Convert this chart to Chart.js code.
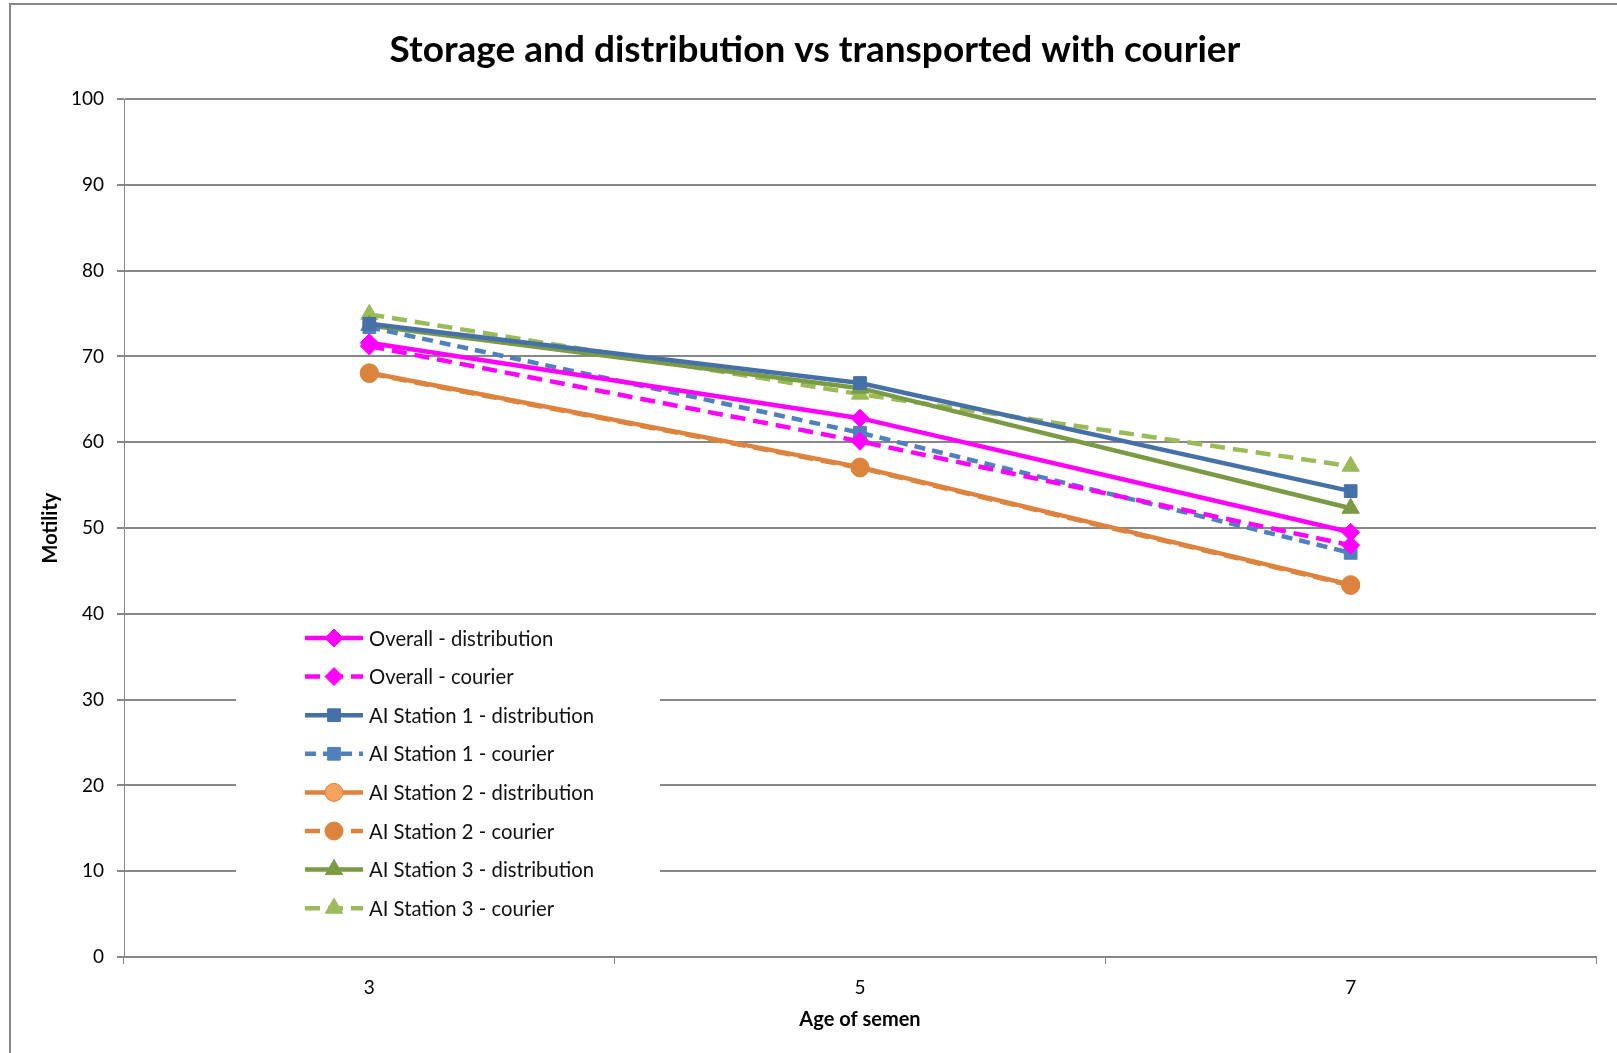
<!DOCTYPE html>
<html>
<head>
<meta charset="utf-8">
<title>Storage and distribution vs transported with courier</title>
<script src="https://cdn.jsdelivr.net/npm/chart.js@4.4.1/dist/chart.umd.min.js"></script>
<style>
  html, body { margin: 0; padding: 0; background: #fff; }
  #wrap { width: 1617px; height: 1053px; position: relative; }
</style>
</head>
<body>
<div id="wrap"><canvas id="chart" width="1617" height="1053"></canvas></div>
<script>
// values
const ageLabels = ['3', '5', '7'];
const overallDistribution = [71.6, 62.8, 49.5];
const overallCourier = [71.2, 60.1, 48.0];
const station1Distribution = [73.8, 66.9, 54.3];
const station1Courier = [73.4, 61.1, 47.1];
const station2Distribution = [68.1, 57.1, 43.4];
const station2Courier = [68.0, 57.0, 43.3];
const station3Distribution = [73.6, 66.3, 52.3];
const station3Courier = [74.9, 65.6, 57.2];
const yTicks = [0, 10, 20, 30, 40, 50, 60, 70, 80, 90, 100];

const FONT = 'Lato, Carlito, "Liberation Sans", sans-serif';
const GRID = '#878787';

function series(label, data, color, style, dashed, fill) {
  return {
    label: label,
    data: data,
    borderColor: color,
    backgroundColor: fill || color,
    borderWidth: 4.5,
    borderDash: dashed ? [15, 8] : [],
    pointStyle: style,
    pointRadius: style === 'rect' ? 9 : (style === 'triangle' ? 10 : 9),
    pointBorderWidth: 1,
    pointBorderColor: color,
    pointBackgroundColor: fill || color,
    tension: 0,
    fill: false
  };
}

const datasets = [
  series('Overall - distribution', overallDistribution, '#FF00FF', 'rectRot', false),
  series('Overall - courier', overallCourier, '#FF00FF', 'rectRot', true),
  series('AI Station 1 - distribution', station1Distribution, '#4670A8', 'rect', false),
  series('AI Station 1 - courier', station1Courier, '#4F81BD', 'rect', true),
  series('AI Station 2 - distribution', station2Distribution, '#E0823D', 'circle', false, '#F7A25E'),
  series('AI Station 2 - courier', station2Courier, '#DC843E', 'circle', true),
  series('AI Station 3 - distribution', station3Distribution, '#7A9A43', 'triangle', false),
  series('AI Station 3 - courier', station3Courier, '#9BBB59', 'triangle', true)
];
datasets[3].borderDash = [11, 7];
// the darker courier circles sit on top of the distribution ones
datasets[5].order = -1;

// frame around the chart and the legend sitting inside the plot
const decor = {
  id: 'decor',
  beforeDraw(chart) {
    const ctx = chart.ctx;
    ctx.save();
    ctx.strokeStyle = GRID;
    ctx.lineWidth = 2;
    ctx.strokeRect(10, 4, 2000, 2000);
    ctx.restore();
  },
  afterDraw(chart) {
    const ctx = chart.ctx;
    ctx.save();
    ctx.fillStyle = '#fff';
    ctx.fillRect(236, 616, 424, 312);
    chart.data.datasets.forEach((ds, i) => {
      const y = 638 + i * 38.6;
      ctx.beginPath();
      ctx.setLineDash(ds.borderDash);
      ctx.lineDashOffset = 0;
      ctx.strokeStyle = ds.borderColor;
      ctx.lineWidth = ds.borderWidth;
      ctx.moveTo(305, y);
      ctx.lineTo(363, y);
      ctx.stroke();
      ctx.setLineDash([]);
      ctx.fillStyle = ds.pointBackgroundColor;
      ctx.strokeStyle = ds.pointBorderColor;
      ctx.lineWidth = 1;
      Chart.helpers.drawPoint(ctx, {
        pointStyle: ds.pointStyle,
        radius: ds.pointRadius,
        rotation: 0,
        borderWidth: 1
      }, 334, y);
      ctx.fillStyle = '#111';
      ctx.font = '20.3px ' + FONT;
      ctx.textAlign = 'left';
      ctx.textBaseline = 'middle';
      ctx.fillText(ds.label, 369, y + 1);
    });
    ctx.restore();
  }
};

new Chart(document.getElementById('chart'), {
  type: 'line',
  data: { labels: ageLabels, datasets: datasets },
  plugins: [decor],
  options: {
    responsive: false,
    animation: false,
    layout: { padding: { top: 0, left: 34, right: 21, bottom: 0 } },
    plugins: {
      legend: { display: false },
      tooltip: { enabled: false },
      title: {
        display: true,
        text: 'Storage and distribution vs transported with courier',
        color: '#000',
        font: { family: FONT, size: 37, weight: 'bold', lineHeight: 1.2 },
        padding: { top: 28, bottom: 26.6 }
      }
    },
    scales: {
      x: {
        type: 'category',
        offset: true,
        grid: { offset: true, drawOnChartArea: false, color: GRID, lineWidth: 1, tickLength: 7 },
        border: { color: GRID, width: 2 },
        ticks: { color: '#000', font: { family: FONT, size: 19 }, padding: 12 },
        title: {
          display: true,
          text: 'Age of semen',
          color: '#000',
          font: { family: FONT, size: 20, weight: 'bold', lineHeight: 1.2 },
          padding: { top: 0, bottom: 21 }
        },
        afterFit(scale) { scale.height = 96; }
      },
      y: {
        min: 0,
        max: 100,
        afterBuildTicks(scale) { scale.ticks = yTicks.map(v => ({ value: v })); },
        grid: { color: GRID, lineWidth: 2, tickLength: 7 },
        border: { color: GRID, width: 1 },
        ticks: { color: '#000', font: { family: FONT, size: 19 }, padding: 13 },
        title: {
          display: true,
          text: 'Motility',
          color: '#000',
          font: { family: FONT, size: 20, weight: 'bold', lineHeight: 1.2 },
          padding: { top: 5, bottom: 0 }
        },
        afterFit(scale) { scale.width = 90; }
      }
    }
  }
});
</script>
</body>
</html>
